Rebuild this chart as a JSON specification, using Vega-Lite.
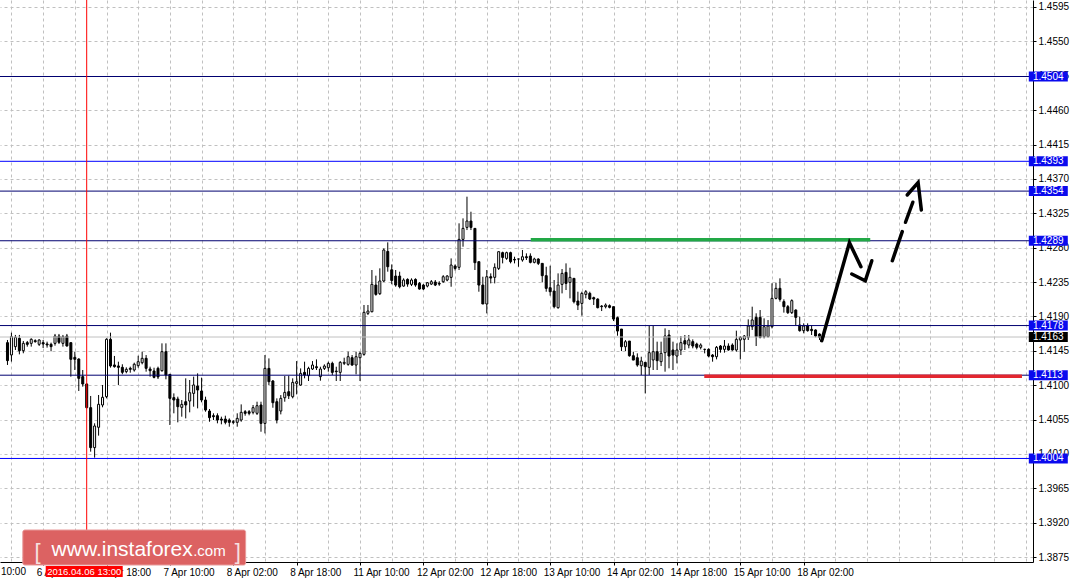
{
"$schema":"https://vega.github.io/schema/vega-lite/v6.json",
"width":1033,"height":562,
"autosize":{"type":"none"},
"padding":{"left":0,"top":0,"right":40,"bottom":19},
"background":"white",
"resolve":{"axis":{"x":"independent","y":"independent"}},
"config":{"view":{"stroke":null},"axis":{"labelFont":"Liberation Sans","labelFontSize":10,"labelColor":"black","domainColor":"black","tickColor":"black","gridColor":"#c0c0c0","gridDash":[3,3],"gridWidth":1,"title":null,"labelOverlap":false,"labelBound":false,"labelFlush":false}},
"datasets":{
"candles":[
{"k":0,"o":1.41556,"h":1.41591,"l":1.41264,"c":1.41321},
{"k":1,"o":1.41395,"h":1.41687,"l":1.41308,"c":1.41635},
{"k":2,"o":1.41504,"h":1.41657,"l":1.4146,"c":1.41626},
{"k":3,"o":1.41613,"h":1.41657,"l":1.41403,"c":1.41451},
{"k":4,"o":1.41451,"h":1.41578,"l":1.41417,"c":1.41547},
{"k":5,"o":1.41556,"h":1.41578,"l":1.41504,"c":1.41534},
{"k":6,"o":1.41547,"h":1.41613,"l":1.41504,"c":1.416},
{"k":7,"o":1.41582,"h":1.416,"l":1.41556,"c":1.41569},
{"k":8,"o":1.41534,"h":1.416,"l":1.41513,"c":1.41591},
{"k":9,"o":1.41556,"h":1.41591,"l":1.41486,"c":1.41539},
{"k":10,"o":1.41539,"h":1.41569,"l":1.41491,"c":1.41526},
{"k":11,"o":1.41534,"h":1.41556,"l":1.41443,"c":1.41504},
{"k":12,"o":1.41547,"h":1.4167,"l":1.41517,"c":1.41643},
{"k":13,"o":1.41643,"h":1.4167,"l":1.41539,"c":1.41561},
{"k":14,"o":1.41547,"h":1.41657,"l":1.41504,"c":1.41635},
{"k":15,"o":1.41643,"h":1.4167,"l":1.41504,"c":1.41513},
{"k":16,"o":1.41556,"h":1.41556,"l":1.41111,"c":1.41338},
{"k":17,"o":1.41364,"h":1.41438,"l":1.41198,"c":1.41338},
{"k":18,"o":1.41342,"h":1.41351,"l":1.40923,"c":1.41089},
{"k":19,"o":1.41111,"h":1.41198,"l":1.4098,"c":1.41015},
{"k":20,"o":1.41015,"h":1.41024,"l":1.40696,"c":1.40705},
{"k":21,"o":1.40705,"h":1.40858,"l":1.40129,"c":1.40182},
{"k":22,"o":1.40182,"h":1.405,"l":1.40051,"c":1.40465},
{"k":23,"o":1.40448,"h":1.40871,"l":1.40339,"c":1.40749},
{"k":24,"o":1.4074,"h":1.41002,"l":1.4071,"c":1.40841},
{"k":25,"o":1.40849,"h":1.41613,"l":1.40827,"c":1.416},
{"k":26,"o":1.416,"h":1.41687,"l":1.41229,"c":1.41251},
{"k":27,"o":1.41264,"h":1.41382,"l":1.41229,"c":1.41242},
{"k":28,"o":1.41251,"h":1.41307,"l":1.41002,"c":1.41233},
{"k":29,"o":1.41233,"h":1.41273,"l":1.41142,"c":1.41168},
{"k":30,"o":1.41177,"h":1.41233,"l":1.41155,"c":1.41207},
{"k":31,"o":1.4122,"h":1.41242,"l":1.41163,"c":1.41207},
{"k":32,"o":1.41198,"h":1.41294,"l":1.41177,"c":1.41273},
{"k":33,"o":1.41255,"h":1.41385,"l":1.41228,"c":1.41307},
{"k":34,"o":1.41294,"h":1.41438,"l":1.41272,"c":1.41351},
{"k":35,"o":1.41351,"h":1.41394,"l":1.41176,"c":1.4122},
{"k":36,"o":1.41211,"h":1.41242,"l":1.41111,"c":1.41189},
{"k":37,"o":1.41185,"h":1.41228,"l":1.41089,"c":1.41102},
{"k":38,"o":1.4122,"h":1.41242,"l":1.4108,"c":1.41107},
{"k":39,"o":1.41189,"h":1.41547,"l":1.41176,"c":1.41438},
{"k":40,"o":1.41438,"h":1.41547,"l":1.41076,"c":1.41132},
{"k":41,"o":1.41141,"h":1.41141,"l":1.40478,"c":1.40827},
{"k":42,"o":1.40836,"h":1.40892,"l":1.40631,"c":1.40805},
{"k":43,"o":1.40818,"h":1.40849,"l":1.40513,"c":1.40718},
{"k":44,"o":1.40709,"h":1.40805,"l":1.40587,"c":1.40748},
{"k":45,"o":1.40783,"h":1.41089,"l":1.40565,"c":1.4074},
{"k":46,"o":1.40792,"h":1.41067,"l":1.40644,"c":1.40901},
{"k":47,"o":1.40892,"h":1.41111,"l":1.40718,"c":1.41002},
{"k":48,"o":1.40988,"h":1.41154,"l":1.40696,"c":1.40936},
{"k":49,"o":1.40923,"h":1.41098,"l":1.40775,"c":1.40805},
{"k":50,"o":1.40805,"h":1.40849,"l":1.40652,"c":1.40674},
{"k":51,"o":1.40661,"h":1.40687,"l":1.40521,"c":1.40574},
{"k":52,"o":1.406,"h":1.40631,"l":1.40543,"c":1.40587},
{"k":53,"o":1.406,"h":1.40631,"l":1.405,"c":1.40543},
{"k":54,"o":1.40556,"h":1.40587,"l":1.40487,"c":1.40543},
{"k":55,"o":1.40556,"h":1.406,"l":1.40487,"c":1.40513},
{"k":56,"o":1.40543,"h":1.40565,"l":1.40456,"c":1.40513},
{"k":57,"o":1.40521,"h":1.40543,"l":1.40487,"c":1.40513},
{"k":58,"o":1.40513,"h":1.40631,"l":1.40456,"c":1.40565},
{"k":59,"o":1.40543,"h":1.40748,"l":1.40521,"c":1.40644},
{"k":60,"o":1.40652,"h":1.40674,"l":1.406,"c":1.40631},
{"k":61,"o":1.40652,"h":1.40674,"l":1.40605,"c":1.40631},
{"k":62,"o":1.40644,"h":1.4074,"l":1.40618,"c":1.40705},
{"k":63,"o":1.40631,"h":1.40783,"l":1.40609,"c":1.40731},
{"k":64,"o":1.4074,"h":1.40783,"l":1.4039,"c":1.40499},
{"k":65,"o":1.40499,"h":1.41394,"l":1.40368,"c":1.41219},
{"k":66,"o":1.41219,"h":1.4135,"l":1.41001,"c":1.41045},
{"k":67,"o":1.41054,"h":1.41067,"l":1.40704,"c":1.4077},
{"k":68,"o":1.40783,"h":1.40827,"l":1.40499,"c":1.40543},
{"k":69,"o":1.40661,"h":1.4087,"l":1.40617,"c":1.40827},
{"k":70,"o":1.40835,"h":1.41119,"l":1.40783,"c":1.40905},
{"k":71,"o":1.40914,"h":1.41124,"l":1.40818,"c":1.40861},
{"k":72,"o":1.40848,"h":1.41089,"l":1.40827,"c":1.41036},
{"k":73,"o":1.41023,"h":1.41315,"l":1.40879,"c":1.41045},
{"k":74,"o":1.41001,"h":1.41219,"l":1.40992,"c":1.41154},
{"k":75,"o":1.41167,"h":1.41307,"l":1.41089,"c":1.41132},
{"k":76,"o":1.41124,"h":1.41241,"l":1.41054,"c":1.41219},
{"k":77,"o":1.41211,"h":1.41315,"l":1.41198,"c":1.41263},
{"k":78,"o":1.41241,"h":1.41337,"l":1.41198,"c":1.41228},
{"k":79,"o":1.41111,"h":1.41241,"l":1.41058,"c":1.41211},
{"k":80,"o":1.41219,"h":1.41272,"l":1.41198,"c":1.4125},
{"k":81,"o":1.41228,"h":1.41307,"l":1.41176,"c":1.41285},
{"k":82,"o":1.41285,"h":1.41307,"l":1.41132,"c":1.41167},
{"k":83,"o":1.41184,"h":1.41241,"l":1.41054,"c":1.41176},
{"k":84,"o":1.41167,"h":1.41315,"l":1.41054,"c":1.41298},
{"k":85,"o":1.41285,"h":1.41359,"l":1.41263,"c":1.41298},
{"k":86,"o":1.41272,"h":1.41438,"l":1.41254,"c":1.41372},
{"k":87,"o":1.41359,"h":1.41394,"l":1.41254,"c":1.41263},
{"k":88,"o":1.41263,"h":1.41438,"l":1.41141,"c":1.41372},
{"k":89,"o":1.41359,"h":1.41438,"l":1.41054,"c":1.41416},
{"k":90,"o":1.41403,"h":1.42049,"l":1.41385,"c":1.41953},
{"k":91,"o":1.4194,"h":1.42049,"l":1.41918,"c":1.4197},
{"k":92,"o":1.41961,"h":1.42507,"l":1.41953,"c":1.42319},
{"k":93,"o":1.4231,"h":1.42433,"l":1.42171,"c":1.42188},
{"k":94,"o":1.42197,"h":1.42529,"l":1.4218,"c":1.42363},
{"k":95,"o":1.42363,"h":1.4279,"l":1.4235,"c":1.42769},
{"k":96,"o":1.4275,"h":1.42869,"l":1.42485,"c":1.4255},
{"k":97,"o":1.4251,"h":1.4258,"l":1.4232,"c":1.4237},
{"k":98,"o":1.42428,"h":1.42507,"l":1.42288,"c":1.4231},
{"k":99,"o":1.42428,"h":1.42485,"l":1.42267,"c":1.42288},
{"k":100,"o":1.42297,"h":1.42398,"l":1.42288,"c":1.42376},
{"k":101,"o":1.42384,"h":1.42398,"l":1.42288,"c":1.42323},
{"k":102,"o":1.42319,"h":1.42398,"l":1.42297,"c":1.42376},
{"k":103,"o":1.42384,"h":1.42398,"l":1.42288,"c":1.4231},
{"k":104,"o":1.42332,"h":1.4235,"l":1.4225,"c":1.42258},
{"k":105,"o":1.4231,"h":1.42323,"l":1.42245,"c":1.42258},
{"k":106,"o":1.42297,"h":1.4235,"l":1.4228,"c":1.42341},
{"k":107,"o":1.42323,"h":1.42376,"l":1.4231,"c":1.42354},
{"k":108,"o":1.4235,"h":1.42376,"l":1.42297,"c":1.4231},
{"k":109,"o":1.42332,"h":1.4236,"l":1.423,"c":1.42323},
{"k":110,"o":1.42354,"h":1.4244,"l":1.4234,"c":1.42419},
{"k":111,"o":1.42376,"h":1.4244,"l":1.4236,"c":1.42428},
{"k":112,"o":1.42411,"h":1.42659,"l":1.42288,"c":1.42572},
{"k":113,"o":1.42559,"h":1.4258,"l":1.425,"c":1.42528},
{"k":114,"o":1.42542,"h":1.43118,"l":1.42507,"c":1.42908},
{"k":115,"o":1.42908,"h":1.43183,"l":1.42812,"c":1.43052},
{"k":116,"o":1.43065,"h":1.43467,"l":1.4303,"c":1.43148},
{"k":117,"o":1.43148,"h":1.4327,"l":1.4303,"c":1.43065},
{"k":118,"o":1.43052,"h":1.43052,"l":1.42507,"c":1.42603},
{"k":119,"o":1.42616,"h":1.42616,"l":1.42223,"c":1.4231},
{"k":120,"o":1.4231,"h":1.42419,"l":1.42062,"c":1.42062},
{"k":121,"o":1.42062,"h":1.42507,"l":1.41939,"c":1.42419},
{"k":122,"o":1.42419,"h":1.42463,"l":1.42332,"c":1.42402},
{"k":123,"o":1.42411,"h":1.42594,"l":1.42332,"c":1.42542},
{"k":124,"o":1.42528,"h":1.42747,"l":1.42507,"c":1.42747},
{"k":125,"o":1.42734,"h":1.42747,"l":1.42594,"c":1.42672},
{"k":126,"o":1.42659,"h":1.42747,"l":1.4264,"c":1.42734},
{"k":127,"o":1.42734,"h":1.42747,"l":1.42594,"c":1.42616},
{"k":128,"o":1.42646,"h":1.42681,"l":1.42594,"c":1.42638},
{"k":129,"o":1.42651,"h":1.42655,"l":1.4255,"c":1.42651},
{"k":130,"o":1.42638,"h":1.42769,"l":1.42616,"c":1.42681},
{"k":131,"o":1.42681,"h":1.42725,"l":1.42638,"c":1.42668},
{"k":132,"o":1.4269,"h":1.42725,"l":1.42594,"c":1.42607},
{"k":133,"o":1.42607,"h":1.42668,"l":1.42594,"c":1.42651},
{"k":134,"o":1.42651,"h":1.4266,"l":1.42572,"c":1.42594},
{"k":135,"o":1.42594,"h":1.42594,"l":1.42345,"c":1.42433},
{"k":136,"o":1.42433,"h":1.4255,"l":1.42223,"c":1.42267},
{"k":137,"o":1.42275,"h":1.42563,"l":1.42171,"c":1.42223},
{"k":138,"o":1.42232,"h":1.42376,"l":1.42005,"c":1.42027},
{"k":139,"o":1.42014,"h":1.42463,"l":1.42,"c":1.4231},
{"k":140,"o":1.42319,"h":1.4252,"l":1.42201,"c":1.42463},
{"k":141,"o":1.42476,"h":1.42594,"l":1.42245,"c":1.42332},
{"k":142,"o":1.42345,"h":1.42537,"l":1.42136,"c":1.42411},
{"k":143,"o":1.42398,"h":1.42398,"l":1.4207,"c":1.42092},
{"k":144,"o":1.42101,"h":1.42223,"l":1.41983,"c":1.42048},
{"k":145,"o":1.4207,"h":1.42223,"l":1.41909,"c":1.42201},
{"k":146,"o":1.42188,"h":1.42245,"l":1.42136,"c":1.42223},
{"k":147,"o":1.42201,"h":1.42223,"l":1.42114,"c":1.42127},
{"k":148,"o":1.42145,"h":1.42158,"l":1.42049,"c":1.42127},
{"k":149,"o":1.42127,"h":1.42136,"l":1.42005,"c":1.42014},
{"k":150,"o":1.42035,"h":1.42048,"l":1.4197,"c":1.42027},
{"k":151,"o":1.42027,"h":1.4207,"l":1.42005,"c":1.42048},
{"k":152,"o":1.4204,"h":1.42057,"l":1.42005,"c":1.42018},
{"k":153,"o":1.42027,"h":1.42027,"l":1.41839,"c":1.41865},
{"k":154,"o":1.41883,"h":1.41896,"l":1.41647,"c":1.41708},
{"k":155,"o":1.41734,"h":1.41734,"l":1.41446,"c":1.41503},
{"k":156,"o":1.41503,"h":1.4159,"l":1.41446,"c":1.41568},
{"k":157,"o":1.41577,"h":1.41577,"l":1.41372,"c":1.41385},
{"k":158,"o":1.41385,"h":1.41437,"l":1.41328,"c":1.41328},
{"k":159,"o":1.41359,"h":1.41416,"l":1.41241,"c":1.41263},
{"k":160,"o":1.41254,"h":1.41372,"l":1.41132,"c":1.41315},
{"k":161,"o":1.41298,"h":1.41298,"l":1.40892,"c":1.41241},
{"k":162,"o":1.41233,"h":1.41774,"l":1.41132,"c":1.41425},
{"k":163,"o":1.41329,"h":1.41774,"l":1.41198,"c":1.41438},
{"k":164,"o":1.41438,"h":1.41569,"l":1.41198,"c":1.4132},
{"k":165,"o":1.41307,"h":1.41569,"l":1.4125,"c":1.41416},
{"k":166,"o":1.41425,"h":1.41743,"l":1.41176,"c":1.41643},
{"k":167,"o":1.41656,"h":1.41722,"l":1.4122,"c":1.41381},
{"k":168,"o":1.4146,"h":1.41569,"l":1.41198,"c":1.41394},
{"k":169,"o":1.41381,"h":1.41547,"l":1.41285,"c":1.4146},
{"k":170,"o":1.4146,"h":1.41643,"l":1.41394,"c":1.41556},
{"k":171,"o":1.41582,"h":1.41656,"l":1.4146,"c":1.41538},
{"k":172,"o":1.41525,"h":1.41656,"l":1.41482,"c":1.41591},
{"k":173,"o":1.41569,"h":1.41599,"l":1.41482,"c":1.41512},
{"k":174,"o":1.41538,"h":1.41556,"l":1.41468,"c":1.41495},
{"k":175,"o":1.41495,"h":1.41547,"l":1.41468,"c":1.41525},
{"k":176,"o":1.41468,"h":1.41477,"l":1.41416,"c":1.41468},
{"k":177,"o":1.41468,"h":1.41482,"l":1.41364,"c":1.41381},
{"k":178,"o":1.41394,"h":1.41407,"l":1.41307,"c":1.41372},
{"k":179,"o":1.41372,"h":1.41512,"l":1.41337,"c":1.41495},
{"k":180,"o":1.41512,"h":1.41525,"l":1.41425,"c":1.41468},
{"k":181,"o":1.41468,"h":1.41591,"l":1.41425,"c":1.41512},
{"k":182,"o":1.41512,"h":1.41547,"l":1.41451,"c":1.4146},
{"k":183,"o":1.41525,"h":1.41547,"l":1.41451,"c":1.4146},
{"k":184,"o":1.4146,"h":1.41713,"l":1.41438,"c":1.41599},
{"k":185,"o":1.41591,"h":1.41643,"l":1.41337,"c":1.41626},
{"k":186,"o":1.41599,"h":1.41656,"l":1.41438,"c":1.41643},
{"k":187,"o":1.41626,"h":1.41861,"l":1.41591,"c":1.41774},
{"k":188,"o":1.41765,"h":1.42027,"l":1.41722,"c":1.41853},
{"k":189,"o":1.41887,"h":1.4194,"l":1.41512,"c":1.41634},
{"k":190,"o":1.41887,"h":1.41983,"l":1.41612,"c":1.41626},
{"k":191,"o":1.41634,"h":1.41874,"l":1.41612,"c":1.41765},
{"k":192,"o":1.41634,"h":1.41852,"l":1.41626,"c":1.41774},
{"k":193,"o":1.41765,"h":1.42333,"l":1.41743,"c":1.42136},
{"k":194,"o":1.42136,"h":1.42341,"l":1.42123,"c":1.42267},
{"k":195,"o":1.42267,"h":1.42398,"l":1.42093,"c":1.42123},
{"k":196,"o":1.42093,"h":1.42123,"l":1.41949,"c":1.42027},
{"k":197,"o":1.42027,"h":1.42049,"l":1.41931,"c":1.41949},
{"k":198,"o":1.41949,"h":1.42123,"l":1.41931,"c":1.42106},
{"k":199,"o":1.41983,"h":1.41992,"l":1.41787,"c":1.41887},
{"k":200,"o":1.41787,"h":1.41896,"l":1.417,"c":1.41713},
{"k":201,"o":1.41713,"h":1.41809,"l":1.41678,"c":1.41774},
{"k":202,"o":1.41774,"h":1.41809,"l":1.417,"c":1.41713},
{"k":203,"o":1.4173,"h":1.41787,"l":1.41656,"c":1.41713},
{"k":204,"o":1.41722,"h":1.4173,"l":1.41626,"c":1.41643},
{"k":205,"o":1.41669,"h":1.41678,"l":1.41591,"c":1.41626},
{"k":206,"o":1.41643,"h":1.4166,"l":1.416,"c":1.4163}
],
"levels":[
{"p":1.4504,"t":"a"},{"p":1.4393,"t":"b"},{"p":1.4354,"t":"a"},{"p":1.4289,"t":"a"},{"p":1.4178,"t":"a"},{"p":1.4113,"t":"a"},{"p":1.4004,"t":"b"}
],
"arrows":[
{"s":"a","i":0,"k":205.55,"p":1.41582},{"s":"a","i":1,"k":212.55,"p":1.42865},{"s":"a","i":2,"k":215.45,"p":1.4255},
{"s":"b","i":0,"k":213.13,"p":1.42455},{"s":"b","i":1,"k":216.55,"p":1.42367},{"s":"b","i":2,"k":218.2,"p":1.42629},
{"s":"c","i":0,"k":223.38,"p":1.42629},{"s":"c","i":1,"k":225.88,"p":1.43009},
{"s":"d","i":0,"k":226.7,"p":1.43132},{"s":"d","i":1,"k":228.55,"p":1.43394},
{"s":"e","i":0,"k":227.13,"p":1.43489},{"s":"e","i":1,"k":229.88,"p":1.4365},{"s":"e","i":2,"k":230.7,"p":1.43293}
]
},
"layer":[
{"data":{"name":"candles"},"mark":{"type":"rule","color":"black","strokeWidth":1},
"encoding":{
"x":{"field":"k","type":"quantitative","scale":{"domain":[-0.625,257.625],"nice":false,"zero":false},
"axis":{"orient":"bottom","title":null,"values":[-7,1,9,17,25,33,41,49,57,65,73,81,89,97,105,113,121,129,137,145,153,161,169,177,185,193,201,209,217,225,233,241,249,257],"grid":true,"labelAlign":"left","labelBaseline":"top","labelPadding":2,"labelOffset":-7,"tickSize":3,"labelOverlap":false,"labelBound":false,"labelFlush":false,
"tickOpacity":{"condition":{"test":"(datum.value-9)%16==0 && datum.value<=201","value":1},"value":0},
"labelExpr":"datum.value==-7?'5 Apr 10:00':datum.value==9?'6 Apr 02:00':datum.value==25?'6 Apr 18:00':datum.value==41?'7 Apr 10:00':datum.value==57?'8 Apr 02:00':datum.value==73?'8 Apr 18:00':datum.value==89?'11 Apr 10:00':datum.value==105?'12 Apr 02:00':datum.value==121?'12 Apr 18:00':datum.value==137?'13 Apr 10:00':datum.value==153?'14 Apr 02:00':datum.value==169?'14 Apr 18:00':datum.value==185?'15 Apr 10:00':datum.value==201?'18 Apr 02:00':''"}},
"y":{"field":"l","type":"quantitative","scale":{"domain":[1.386847,1.460416],"nice":false,"zero":false},
"axis":{"orient":"right","title":null,"values":[1.3875,1.392,1.3965,1.401,1.4055,1.41,1.4145,1.419,1.4235,1.428,1.4325,1.437,1.4415,1.446,1.4505,1.455,1.4595],"format":".4f","grid":true,"tickSize":3,"labelPadding":2,"labelOverlap":false,"labelBound":false,"labelFlush":false}},
"y2":{"field":"h"}}},
{"data":{"name":"candles"},"mark":{"type":"bar","orient":"vertical","size":2,"stroke":"black","strokeWidth":1},
"encoding":{
"x":{"field":"k","type":"quantitative","axis":null},
"y":{"field":"o","type":"quantitative","axis":null},
"y2":{"field":"c"},
"fill":{"condition":{"test":"datum.c > datum.o","value":"white"},"value":"black"}}},
{"data":{"values":[{}]},"mark":{"type":"rule","color":"#c0c0c0","strokeWidth":1},"encoding":{"y":{"datum":1.4163,"type":"quantitative","axis":null}}},
{"data":{"name":"levels"},"mark":{"type":"rule","strokeWidth":1},
"encoding":{"y":{"field":"p","type":"quantitative","axis":null},"color":{"field":"t","type":"nominal","scale":{"domain":["a","b"],"range":["#000070","#0000ff"]},"legend":null}}},
{"data":{"values":[{}]},"mark":{"type":"rule","color":"#ff0000","strokeWidth":1},"encoding":{"x":{"datum":20,"type":"quantitative","axis":null}}},
{"data":{"values":[{}]},"mark":{"type":"rule","color":"#22a846","strokeWidth":3.5},"encoding":{"x":{"datum":132.1,"type":"quantitative","axis":null},"x2":{"datum":217.8},"y":{"datum":1.42904,"type":"quantitative","axis":null}}},
{"data":{"values":[{}]},"mark":{"type":"rule","color":"#e3262f","strokeWidth":3.5},"encoding":{"x":{"datum":175.9,"type":"quantitative","axis":null},"x2":{"datum":256.1},"y":{"datum":1.41116,"type":"quantitative","axis":null}}},
{"data":{"name":"arrows"},"mark":{"type":"line","color":"black","strokeWidth":3.5,"strokeCap":"round","strokeJoin":"miter"},
"encoding":{"x":{"field":"k","type":"quantitative","axis":null},"y":{"field":"p","type":"quantitative","axis":null},"detail":{"field":"s"},"order":{"field":"i"}}},
{"data":{"name":"levels"},"mark":{"type":"tick","orient":"horizontal","size":39,"thickness":10,"color":"#0a0aee","opacity":1},
"encoding":{"x":{"datum":262.75,"type":"quantitative","axis":null},"y":{"field":"p","type":"quantitative","axis":null}}},
{"data":{"name":"levels"},"mark":{"type":"text","align":"left","baseline":"middle","color":"white","font":"Liberation Sans","fontSize":10},
"encoding":{"x":{"datum":258.875,"type":"quantitative","axis":null},"y":{"field":"p","type":"quantitative","axis":null},"text":{"field":"p","type":"quantitative","format":".4f"}}},
{"data":{"values":[{}]},"mark":{"type":"tick","orient":"horizontal","size":39,"thickness":10,"color":"black","opacity":1},
"encoding":{"x":{"datum":262.75,"type":"quantitative","axis":null},"y":{"datum":1.4163,"type":"quantitative","axis":null}}},
{"data":{"values":[{}]},"mark":{"type":"text","align":"left","baseline":"middle","color":"white","font":"Liberation Sans","fontSize":10},
"encoding":{"x":{"datum":258.875,"type":"quantitative","axis":null},"y":{"datum":1.4163,"type":"quantitative","axis":null},"text":{"value":"1.4163"}}},
{"data":{"values":[{}]},"mark":{"type":"text","align":"left","baseline":"top","color":"black","font":"Liberation Sans","fontSize":10},
"encoding":{"x":{"datum":-8.25,"type":"quantitative","axis":null},"y":{"datum":1.386192,"type":"quantitative","axis":null},"text":{"value":"5 Apr 10:00"}}},
{"data":{"values":[{}]},"mark":{"type":"rect","fill":"#dc6262","stroke":"#e89a9a","strokeWidth":1,"cornerRadius":2},
"encoding":{"x":{"datum":3.875,"type":"quantitative","axis":null},"x2":{"datum":60.125},"y":{"datum":1.391035,"type":"quantitative","axis":null},"y2":{"datum":1.386454}}},
{"data":{"values":[{}]},"mark":{"type":"text","align":"center","baseline":"alphabetic","color":"#f6e0e0","font":"Liberation Sans","fontSize":22},
"encoding":{"x":{"datum":7.625,"type":"quantitative","axis":null},"y":{"datum":1.38724,"type":"quantitative","axis":null},"text":{"value":"["}}},
{"data":{"values":[{}]},"mark":{"type":"text","align":"left","baseline":"alphabetic","color":"white","font":"Liberation Sans","fontSize":21},
"encoding":{"x":{"datum":11.125,"type":"quantitative","axis":null},"y":{"datum":1.38763,"type":"quantitative","axis":null},"text":{"value":"www.instaforex"}}},
{"data":{"values":[{}]},"mark":{"type":"text","align":"left","baseline":"alphabetic","color":"white","font":"Liberation Sans","fontSize":15},
"encoding":{"x":{"datum":46.875,"type":"quantitative","axis":null},"y":{"datum":1.38763,"type":"quantitative","axis":null},"text":{"value":".com"}}},
{"data":{"values":[{}]},"mark":{"type":"text","align":"center","baseline":"alphabetic","color":"#f6e0e0","font":"Liberation Sans","fontSize":22},
"encoding":{"x":{"datum":58.125,"type":"quantitative","axis":null},"y":{"datum":1.38724,"type":"quantitative","axis":null},"text":{"value":"]"}}},
{"data":{"values":[{}]},"mark":{"type":"tick","orient":"horizontal","size":77,"thickness":11,"color":"#ff0000","opacity":1},
"encoding":{"x":{"datum":19.375,"type":"quantitative","axis":null},"y":{"datum":1.385603,"type":"quantitative","axis":null}}},
{"data":{"values":[{}]},"mark":{"type":"text","align":"center","baseline":"middle","color":"white","font":"Liberation Sans","fontSize":9.5},
"encoding":{"x":{"datum":19.375,"type":"quantitative","axis":null},"y":{"datum":1.385603,"type":"quantitative","axis":null},"text":{"value":"2016.04.06 13:00"}}}
]
}
